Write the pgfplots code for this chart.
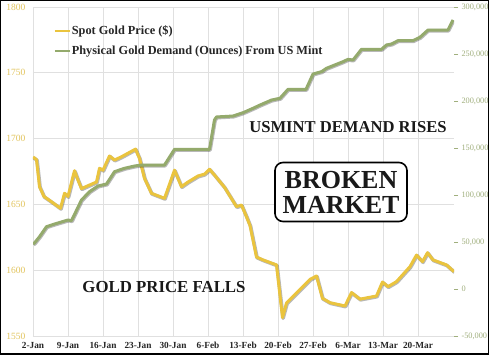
\documentclass[border=0pt]{standalone}
\usepackage{pgfplots}
\usepackage{pgfplotstable}
\pgfplotsset{compat=1.18}
\usepackage{fontspec}
\setmainfont{Liberation Serif}
\definecolor{gold}{RGB}{234,196,62}
\definecolor{mintgreen}{RGB}{148,170,108}
\definecolor{goldtick}{RGB}{226,196,92}
\definecolor{greentick}{RGB}{160,175,125}

\pgfplotstableread{
d price
0 1686
0.7 1684
1.3 1663.5
2.2 1656
3.7 1652
5.5 1647
6.3 1658.4
7 1656
8.3 1675.6
9 1668.5
9.7 1662
11.3 1664.7
12.7 1667
13.3 1677.4
14 1676
15.3 1686.8
16.3 1683.7
17.7 1686.2
20.5 1692
21.3 1685
22.3 1669.8
23.7 1658.4
26.3 1654.6
28.3 1676
29.7 1663.5
31 1667
33 1671.6
34.3 1673
35.3 1676.7
36.3 1672.3
38.3 1663
40.7 1648.3
41.7 1649.5
42.7 1640.6
43.4 1634
44.7 1610
46 1607.8
48.7 1604
49.9 1564
50.7 1575
52 1580
55.4 1593
56.7 1595.6
57.9 1578.6
59.4 1575.3
62.4 1572.8
63.7 1583
65.4 1578
68.7 1580.4
69.9 1591
71 1587.5
72.7 1591.3
75.4 1602.7
76.7 1611.5
77.9 1606.5
78.9 1613.3
80 1607.8
82.7 1604
84.2 1598.9
}\goldtable

\pgfplotstableread{
d oz
0 48000
0.3 49000
1.3 55600
2.7 66300
4.3 69100
7 73400
7.7 72700
9.7 94700
11.3 103500
13 109600
14.7 111700
16.3 124800
18.3 128400
20.3 130800
21.7 131900
26.3 131900
28.3 148600
35.3 148600
36.3 180000
36.7 183000
40 184000
42 187500
44 192200
45.4 195700
47.7 201000
49.4 202900
51 212400
54.6 212400
56 228700
57.7 231200
58.7 234800
62 241800
63 244300
64 243600
65.7 255000
69.7 255000
70.7 259600
71.7 260600
73 264200
76 264200
77.4 267800
79 275500
83 275500
84 286200
}\minttable

\begin{document}
\begin{tikzpicture}[x=1pt,y=1pt]
\useasboundingbox (-33,-19) rectangle (456,336);
\fill[white] (-33,-19) rectangle (456,336);
\begin{axis}[
  scale only axis,
  width=421pt, height=329pt,
  xmin=0, xmax=84.2, ymin=1550, ymax=1800,
  xtick={0,7,...,77},
  xticklabels={2-Jan,9-Jan,16-Jan,23-Jan,30-Jan,6-Feb,13-Feb,20-Feb,27-Feb,6-Mar,13-Mar,20-Mar},
  ytick={1550,1600,...,1800},
  yticklabels={1550,1600,1650,1700,1750,1800},
  grid=major, major grid style={black!12, line width=0.7pt},
  axis line style={draw=none}, major tick length=0pt,
  xticklabel style={font=\fontsize{9.3}{10}\selectfont\bfseries, text=black!85, yshift=-3pt},
  yticklabel style={font=\fontsize{9.5}{10}\selectfont, text=goldtick, xshift=-4pt},
]
\addplot[black, opacity=0.28, line width=3.6pt, line join=round, xshift=0.6pt, yshift=-0.7pt, forget plot] table[x=d,y=price] {\goldtable};
\addplot[gold, line width=3pt, line join=round] table[x=d,y=price] {\goldtable};
\end{axis}
\begin{axis}[
  scale only axis,
  width=421pt, height=329pt,
  xmin=0, xmax=84.2, ymin=-50000, ymax=300000,
  axis x line=none, axis y line*=right,
  axis line style={draw=none},
  ytick={-50000,0,50000,100000,150000,200000,250000,300000},
  yticklabels={{-50,000},{0},{50,000},{100,000},{150,000},{200,000},{250,000},{300,000}},
  scaled y ticks=false,
  yticklabel style={font=\fontsize{8.3}{9}\selectfont, text=greentick, xshift=0pt},
  ytick style={greentick, line width=0.6pt},
  major tick length=4pt, tick align=outside,
  legend style={draw=none, fill=none, at={(0.042,0.955)}, anchor=north west,
    font=\fontsize{12.3}{13}\selectfont\bfseries, text=black!85, row sep=6pt,
    nodes={inner xsep=1pt}},
  legend cell align=left,
  legend image code/.code={\draw[#1, line width=2pt] (0pt,0pt) -- (15pt,0pt);},
]
\addlegendimage{gold}
\addlegendentry{Spot Gold Price (\$)}
\addplot[black, opacity=0.28, line width=3.6pt, line join=round, xshift=0.6pt, yshift=-0.7pt, forget plot] table[x=d,y=oz] {\minttable};
\addplot[mintgreen, line width=3pt, line join=round] table[x=d,y=oz] {\minttable};
\addlegendentry{Physical Gold Demand (Ounces) From US Mint}
\end{axis}
\node[font=\fontsize{16.6}{18}\selectfont\bfseries, text=black!90] at (315,209) {USMINT DEMAND RISES};
\node[font=\fontsize{16.8}{18}\selectfont\bfseries, text=black!90] at (131,49) {GOLD PRICE FALLS};
\node[draw=black, line width=1.6pt, rounded corners=8pt, fill=white, minimum width=132pt, minimum height=59pt, align=center, inner sep=2pt, font=\fontsize{26}{25}\selectfont\bfseries, text=black!90] at (308,144) {BROKEN\\MARKET};
\draw[black, line width=1.5pt] (-32.25,-18.25) rectangle (455.25,335.25);
\end{tikzpicture}
\end{document}
